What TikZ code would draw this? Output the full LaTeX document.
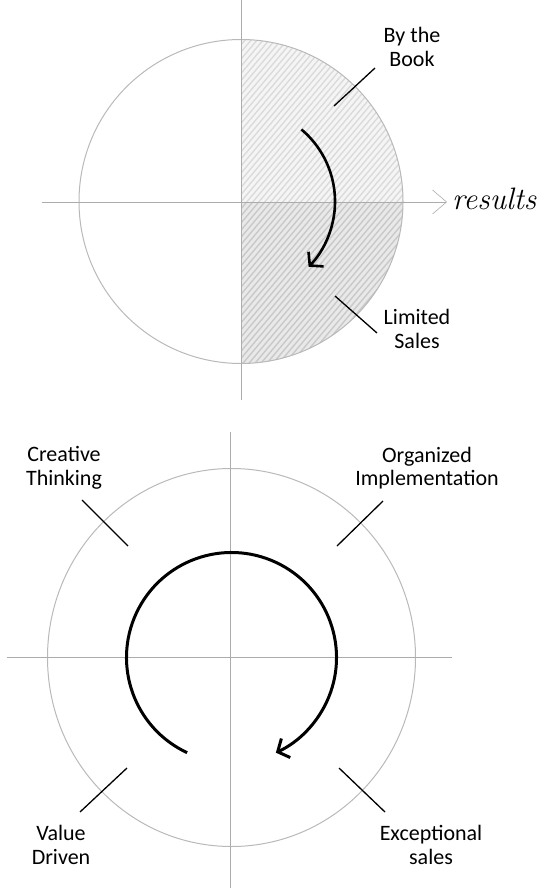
\documentclass[tikz,border=0pt]{standalone}
\usepackage{fontspec}
\setmainfont{Carlito}
\newfontfamily\handfont{Latin Modern Roman}
\usetikzlibrary{arrows.meta}

\begin{document}
\begin{tikzpicture}[x=1pt,y=-1pt,
  lbl/.style={align=center,font=\fontsize{22}{23.5}\selectfont,inner sep=0pt},
  axis/.style={gray!65,line width=0.6pt},
  rim/.style={gray!55,line width=1pt},
  leader/.style={black,line width=1.3pt},
  turn/.style={-{Straight Barb[length=9pt,width=21pt]},line width=2.6pt},
  hatch/.style={line width=1.4pt}
]
\useasboundingbox (0,0) rectangle (544,888);

% top picture
\coordinate (top) at (241,201.5);
\begin{scope}
  \clip (top) circle (162);
  \begin{scope}
    \clip (241,30) rectangle (410,202);
    \fill[gray!8] (241,30) rectangle (410,202);
    \foreach \s in {-100,-94,...,410}
      \draw[hatch,gray!28] (\s,400) -- ++(320,-380);
  \end{scope}
  \begin{scope}
    \clip (241,202) rectangle (410,370);
    \fill[gray!17] (241,202) rectangle (410,370);
    \foreach \s in {-100,-94,...,410}
      \draw[hatch,gray!42] (\s,400) -- ++(320,-380);
  \end{scope}
\end{scope}
\draw[rim] (top) circle (162);
\coordinate (vtop) at (241,0);
\coordinate (vbot) at (241,400);
\coordinate (hleft) at (42,202);
\coordinate (hright) at (447,202);
\draw[axis] (vtop) -- (vbot);
\draw[axis,-{Straight Barb[length=14pt,width=24pt]}] (hleft) -- (hright);
\node[anchor=west,font=\handfont\itshape\fontsize{31}{31}\selectfont,inner sep=0pt] (results) at (452,199) {results};

\draw[turn] (top) ++(-50:94) arc[start angle=-50,end angle=44,radius=94];

\node[lbl] (book) at (412,47) {By the\\Book};
\node[lbl] (limited) at (417,329) {Limited\\Sales};
\coordinate (bookA) at (375,68);
\coordinate (bookB) at (334,106);
\coordinate (limA) at (335,296);
\coordinate (limB) at (377,333);
\draw[leader] (bookA) -- (bookB);
\draw[leader] (limA) -- (limB);

% bottom picture
\coordinate (bot) at (231.5,657.5);
\draw[rim] (bot) ellipse[x radius=184,y radius=189];
\coordinate (v2top) at (230,432);
\coordinate (v2bot) at (230,888);
\coordinate (h2left) at (7,657);
\coordinate (h2right) at (452,657);
\draw[axis] (v2top) -- (v2bot);
\draw[axis] (h2left) -- (h2right);

\draw[turn,line width=3pt] (bot) ++(-245:105) arc[start angle=-245,end angle=65,radius=105];

\node[lbl] (creative) at (64,468) {Creative\\Thinking};
\node[lbl] (organized) at (427,468) {Organized\\Implementation};
\node[lbl] (value) at (61,845) {Value\\Driven};
\node[lbl] (exceptional) at (431,845) {Exceptional\\sales};
\coordinate (ctA) at (82,500);
\coordinate (ctB) at (128,546);
\coordinate (oiA) at (383,501);
\coordinate (oiB) at (337,546);
\coordinate (vdA) at (127,768);
\coordinate (vdB) at (80,812);
\coordinate (esA) at (339,768);
\coordinate (esB) at (385,812);
\draw[leader] (ctA) -- (ctB);
\draw[leader] (oiA) -- (oiB);
\draw[leader] (vdA) -- (vdB);
\draw[leader] (esA) -- (esB);
\end{tikzpicture}
\end{document}
